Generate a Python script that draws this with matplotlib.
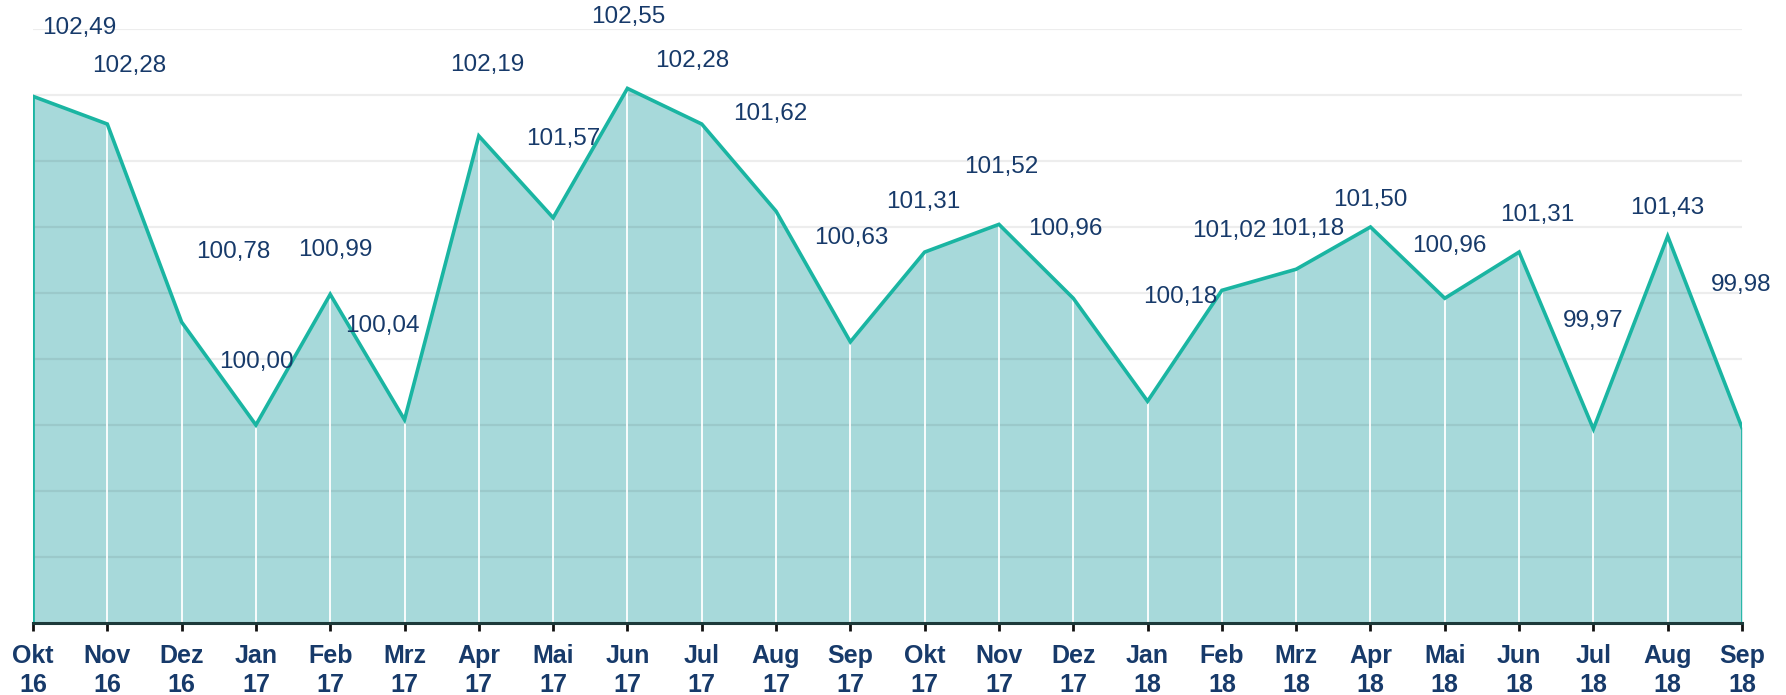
import matplotlib
matplotlib.use("Agg")
import numpy as np
import matplotlib.pyplot as plt

months = ["Okt", "Nov", "Dez", "Jan", "Feb", "Mrz", "Apr", "Mai", "Jun", "Jul", "Aug", "Sep",
          "Okt", "Nov", "Dez", "Jan", "Feb", "Mrz", "Apr", "Mai", "Jun", "Jul", "Aug", "Sep"]
years = ["16", "16", "16", "17", "17", "17", "17", "17", "17", "17", "17", "17",
         "17", "17", "17", "18", "18", "18", "18", "18", "18", "18", "18", "18"]
values = [102.49, 102.28, 100.78, 100.00, 100.99, 100.04, 102.19, 101.57, 102.55, 102.28,
          101.62, 100.63, 101.31, 101.52, 100.96, 100.18, 101.02, 101.18, 101.50, 100.96,
          101.31, 99.97, 101.43, 99.98]

# label offsets in pixels (the labels in the original are scattered a bit)
label_dx = [46, 22, 52, 1, 5, -22, 8, 10, 1, -10, -6, 1, -1, 2, -8, 33, 7, 11, 0, 5, 18, 0, 0, -1]
label_dy = [68, 58, 70, 63, 44, 94, 71, 79, 71, 63, 97, 104, 50, 57, 69, 104, 59, 40, 27, 52, 37, 108, 28, 143]

navy = "#173a6a"
teal = "#1ab5a2"
fill = "#a7d9da"

plt.rcParams["font.family"] = ["Liberation Sans", "DejaVu Sans"]

fig = plt.figure(figsize=(17.86, 6.95), dpi=100)
ax = fig.add_axes([33 / 1786, 72 / 695, 1709 / 1786, 594 / 695])

x = np.arange(len(values))
ymin, ymax = 98.5, 103.0

ax.fill_between(x, values, ymin, color=fill, lw=0, zorder=1)
for yv in np.arange(ymin + 0.5, ymax + 0.01, 0.5):
    ax.axhline(yv, color=(0, 0, 0, 0.07), lw=1.6, zorder=1.5)
ax.vlines(x[1:-1], ymin, values[1:-1], color="white", lw=1.3, zorder=2)
ax.plot(x, values, color=teal, lw=2.6, zorder=3, solid_joinstyle="miter")
ax.vlines([x[0], x[-1]], ymin, [values[0], values[-1]], color=teal, lw=2, zorder=3)

for i, v in enumerate(values):
    txt = ("%.2f" % v).replace(".", ",")
    ax.annotate(txt, (x[i], v), xytext=(label_dx[i], label_dy[i]),
                textcoords="offset pixels", ha="center", va="center",
                fontsize=17.5, color=navy, zorder=4, annotation_clip=False)

ax.set_xlim(0, len(values) - 1)
ax.set_ylim(ymin, ymax)
ax.set_yticks([])
ax.set_xticks(x)
ax.set_xticklabels([m + "\n" + yr for m, yr in zip(months, years)],
                   fontsize=18, fontweight="bold", color=navy, linespacing=1.25)
ax.tick_params(axis="x", length=6, width=2, color="#111111", pad=9)

for s in ["top", "right", "left"]:
    ax.spines[s].set_visible(False)
ax.spines["bottom"].set_color("#1d3a3a")
ax.spines["bottom"].set_linewidth(2.2)
ax.spines["bottom"].set_zorder(5)

fig.savefig("out.png", dpi=100)
